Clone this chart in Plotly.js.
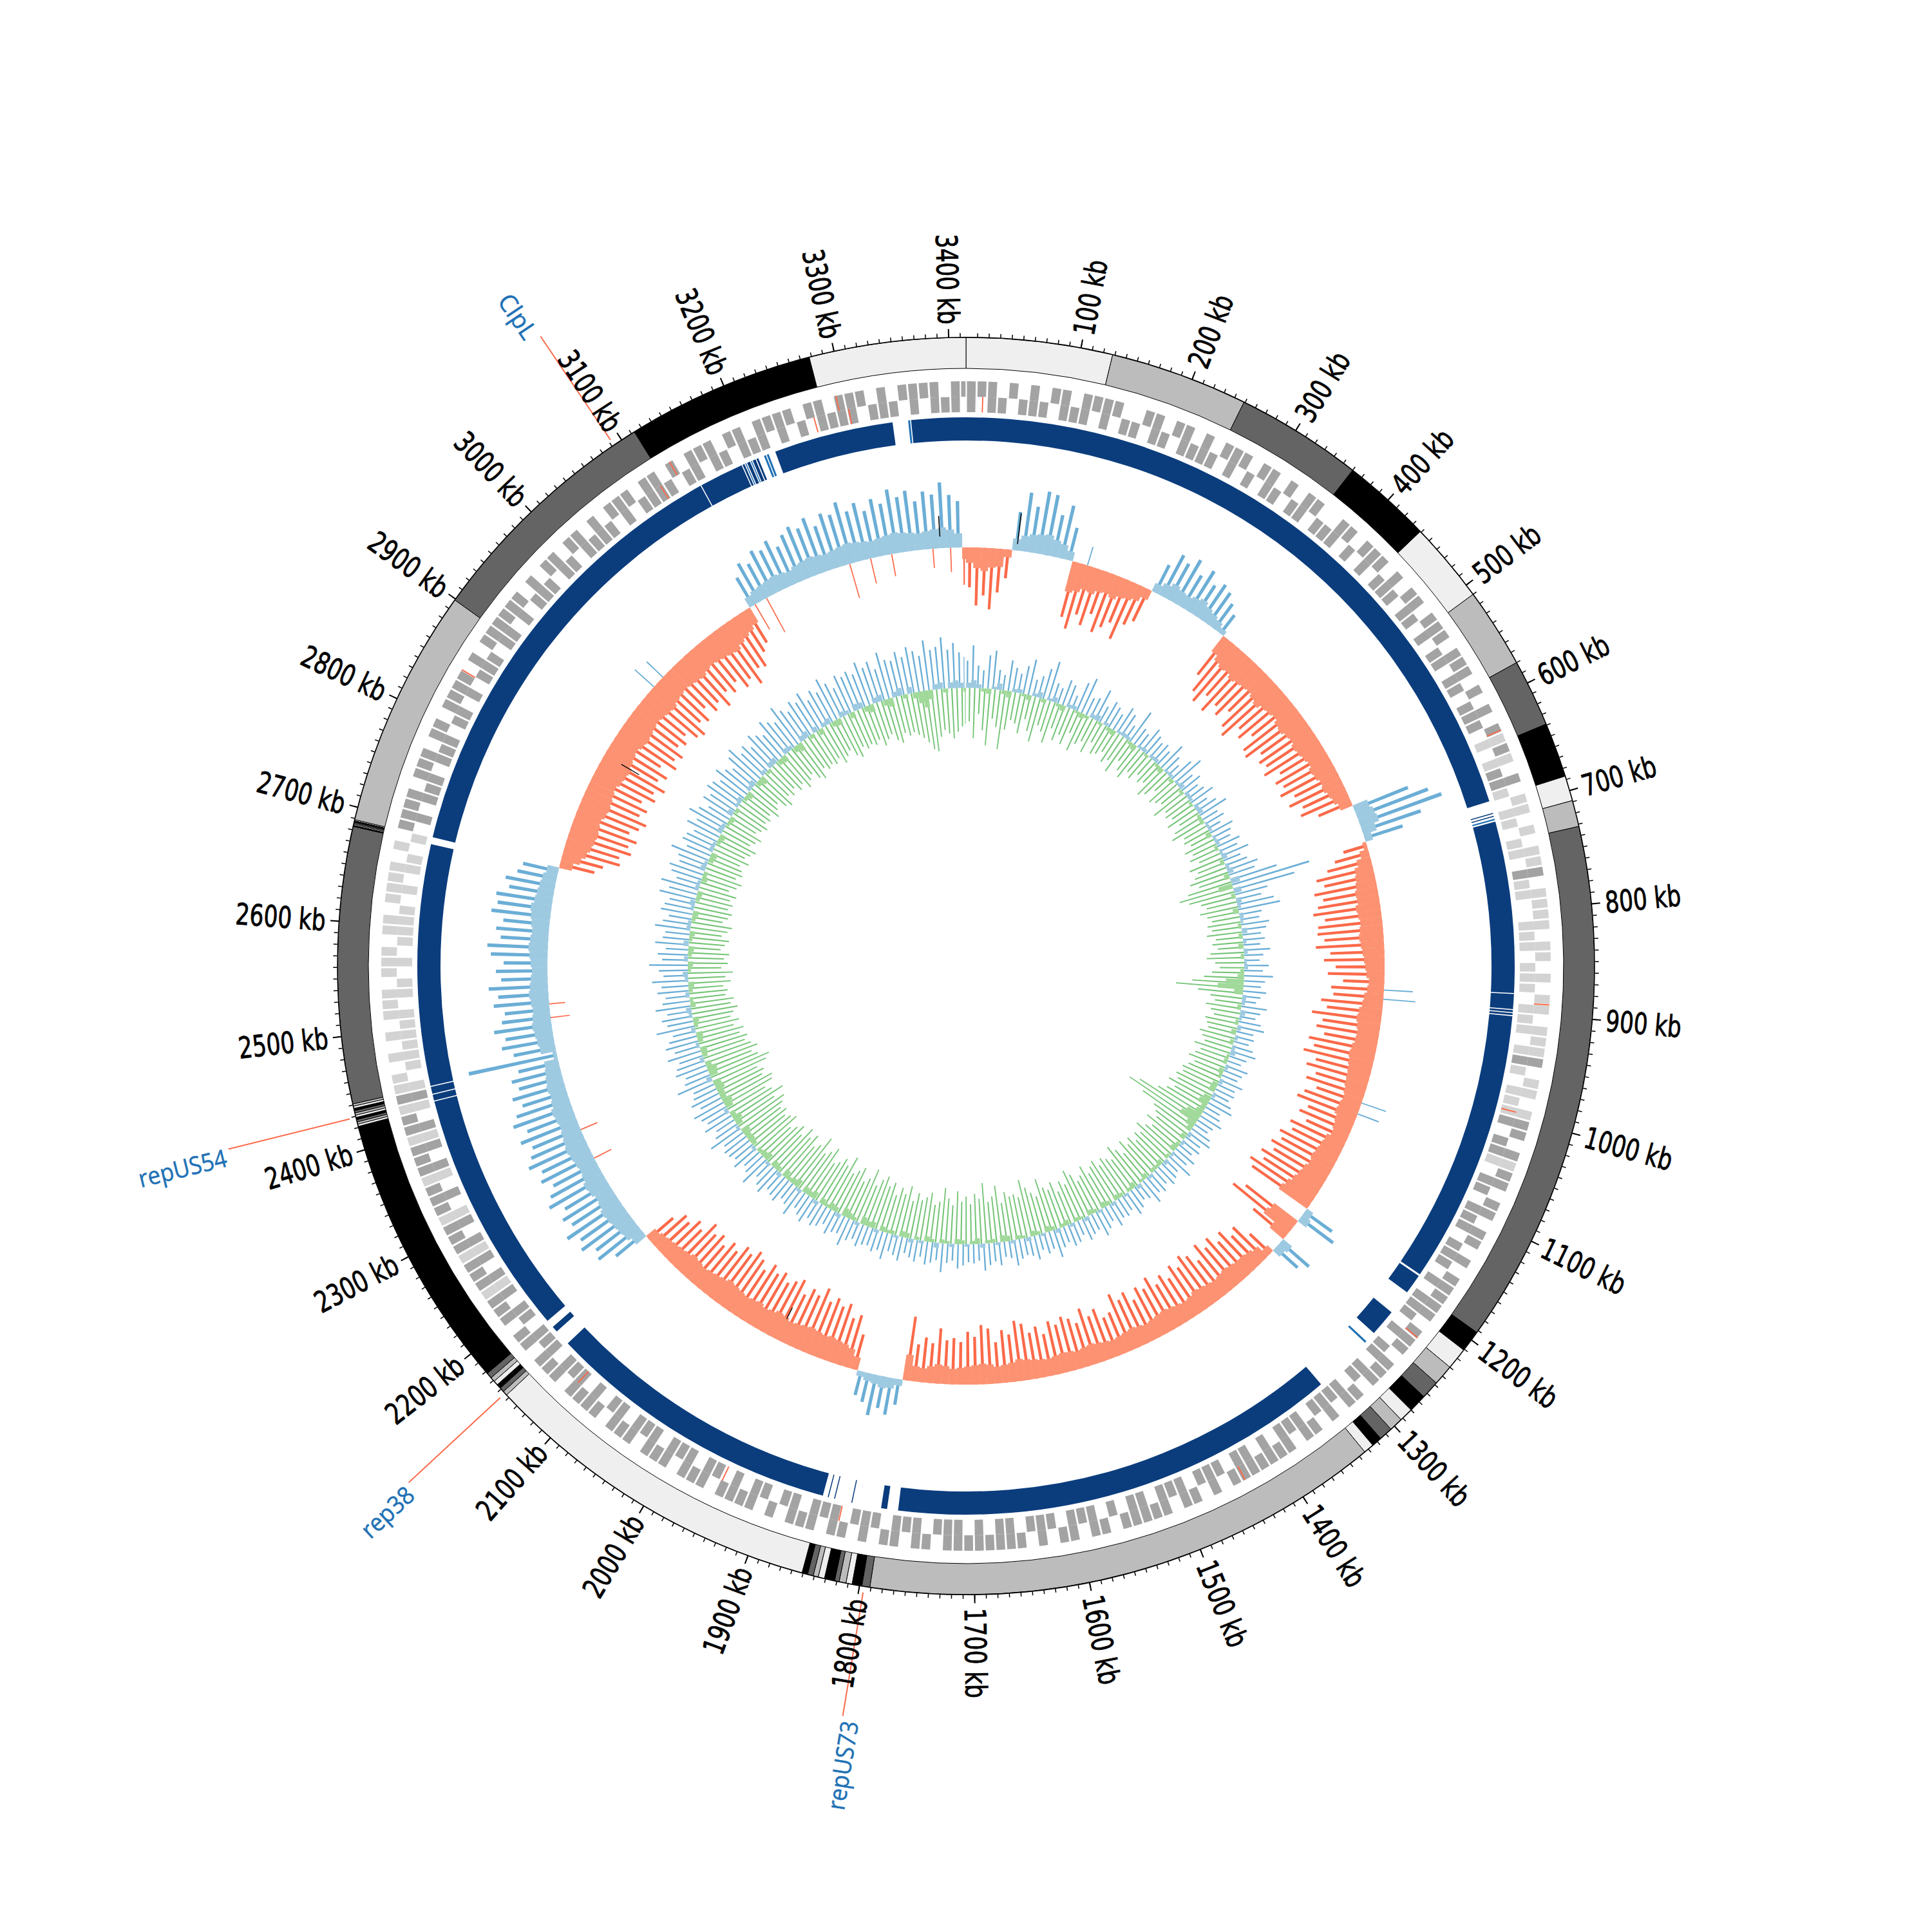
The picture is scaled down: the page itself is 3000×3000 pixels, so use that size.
<!DOCTYPE html>
<html><head><meta charset="utf-8">
<script src="https://cdn.plot.ly/plotly-3.0.1.min.js"></script>
<style>html,body{margin:0;padding:0;background:#fff}#chart{width:3000px;height:3000px}</style>
</head><body><div id="chart"></div>
<script>
// ---------------- DATA ----------------
const GENOME_KB = 3415;
const BIN_KB = 10;

// Contigs (ideogram), kb; shade 0 light,1 mid,2 dark,3 black
const contigStart = [0,128,249,360,439,510,580,639,687,709,732,1192,1211,1230,1248,1264,1280,1292,1304,1316,1325,1334,1791,1798,1806.6,1812,1818,1822,1831,1836.5,1841,1846,1851,2153,2157,2161,2165,2169,2173,2178,2421,2423,2425,2427,2429,2431,2433,2435,2437,2439,2441,2683,2684,2685,2686,2687,2688,2689,2899,3113,3278];
const contigEnd   = [128,249,360,439,510,580,639,687,709,732,1192,1211,1230,1248,1264,1280,1292,1304,1316,1325,1334,1791,1798,1806.6,1812,1818,1822,1831,1836.5,1841,1846,1851,2153,2157,2161,2165,2169,2173,2178,2421,2423,2425,2427,2429,2431,2433,2435,2437,2439,2441,2683,2684,2685,2686,2687,2688,2689,2899,3113,3278,3415];
const contigShade = [0,1,2,3,0,1,2,3,0,1,2,3,0,1,2,3,0,1,2,3,0,1,2,3,0,1,2,3,0,1,2,3,0,1,2,3,0,1,2,3,0,1,2,3,0,1,2,3,0,1,2,3,0,1,2,3,0,1,2,3,0];

// Alignment ring blocks (kb), kind 0 = dark, 1 = light
const alignStart = [0,700,703,706,709,881.5,897.5,900.5,903.5,1180,1225,1263,1325,1786,1821,1838.5,1845,1851,2165,2179,2426.5,2433.5,2441.5,2690,3141.5,3187,3190,3192,3196,3198,3202,3210,3213,3222,3357.5,3360.5];
const alignEnd   = [688,701,704,707.5,880.5,896.5,899.5,902.5,1178,1200,1252,1265,1775,1792,1822,1839.5,1846,2149,2171,2425.5,2432.5,2440.5,2683,3140.5,3186,3189,3191,3195,3197,3201,3204,3212,3215,3342,3359.5,3415];
const alignKind  = [0,0,0,1,0,0,0,0,0,0,0,1,0,0,0,0,0,0,0,0,0,0,0,0,0,0,1,0,1,0,0,1,1,0,1,0];

// Gene track per 10 kb bin: 0 none,1 fwd,2 rev,3 both,4 sparse fwd,5 sparse rev,6 sparse both
const geneCodes = ["3132123213","2313122132","1323213121","3212312231","2131232132",
"1312313212","3216162354","6545643564","4656456546","5646354656",
"3123613213","2312321313","3213123132","1323213231","3133123213",
"2313312132","3123213313","1332132312","3213231321","2313123132",
"3132313213","1323132312","3136313631","3613163136","3163645656",
"5646546456","6546465451","3132313231","2313123213","3131232132",
"1323213123","3212313213","2313121323","3123213132","31"].join('').split('').map(Number);
const redGeneKb  = [16,3293,3302,3126,3107,3268,2850,628,890,1228,1437,1830,1948,2115,995];
const redGeneRow = [2,1,2,1,2,2,1,1,1,1,1,2,2,2,2];

// GC skew (x1000) per 10 kb bin: smoothed fill and window peak
const skewFill = [
 -24,-32,-36,-30,-28,-12, 18, 24, 28, 30,
  32, 26, 22, 14,-48,-44,-38,-40,-34,-32,
 -36,-30,-28,-24,-16, 14, 20, 26, 22, 20,
  24, 28, 22, 18, 14,  8,-30,-38,-42,-40,
 -45,-42,-40,-38,-42,-46,-40,-38,-35,-40,
 -42,-38,-36,-40,-38,-35,-32,-36,-34,-30,
 -32,-28,-25,-20, 24, 28, 30, 22, 12, -6,
 -14,-22,-28,-30,-32,-35,-34,-38,-36,-34,
 -36,-38,-36,-34,-32,-30,-28,-24,-26,-30,
 -32,-36,-38,-36,-34,-35,-38,-40,-38,-36,
 -35,-34,-32,-30,-32,-34,-30,-28,-26,-32,
 -34,-36,-38,-36,-40,-42,-45,-50,-54, 12,
  16,-46,-50,-28, 18, 14,-12,-22,-26,-28,
 -28,-30,-32,-30,-28,-30,-32,-34,-30,-28,
 -30,-32,-34,-32,-30,-28,-30,-32,-30,-28,
 -26,-28,-30,-32,-30,-28,-30,-31,-29,-27,
 -28,-30,-32,-34,-30,-28,-26,-30,-32,-30,
 -28,-26,-24,-28,-30,-26,-22,-24,-40, 10,
  16, 18, 14, 12,  8,-20,-30,-34,-36,-38,
 -36,-38,-40,-38,-36,-34,-38,-40,-36,-34,
 -38,-36,-34,-36,-38,-40,-36,-34,-32,-30,
 -32,-34,-30,-28,-26,-24,-22,-18, 20, 26,
  28, 30, 32, 34, 30, 28, 32, 34, 30, 28,
  30, 32, 34, 32, 30, 28, 30, 32, 28, 26,
  28, 26, 24, 22,  6, 24, 26, 28, 30, 28,
  26, 28, 30, 28, 26, 24, 26, 28, 30, 28,
  26, 28, 30, 32, 28, 26, 24, 22, 18,-20,
 -30,-36,-40,-42,-44,-42,-40,-44,-46,-44,
 -42,-40,-44,-46,-48,-44,-42,-40,-44,-46,
 -44,-42,-40,-42,-44,-46,-42,-40,-38,-40,
 -42,-44,-40,-38,-40,-42,-44,-46,-40,-36,
 -32,-26, 16, 20, 22, 24, 26, 24, 22, 26,
  28, 30, 28, 26, 28, 30, 32, 30, 28, 26,
  28, 30, 32, 30, 28, 26, 28, 30, 32, 28,
  22,-18];
const skewPeak = [
 -62,-90,-74,-95,-68,-45, 60, 92, 72, 98,
  95, 66, 84, 52,-88,-104,-78,-92,-70,-96,
 -84,-72,-95,-66,-55, 48, 72, 64, 78, 58,
  74, 56, 66, 60, 48, 36,-72,-96,-108,-88,
 -110,-90,-100,-82,-105,-115,-88,-98,-80,-104,
 -108,-86,-96,-90,-100,-78,-92,-84,-95,-76,
 -90,-72,-80,-55, 90,118,135, 96, 62,-38,
 -55,-70,-90,-80,-98,-86,-96,-105,-88,-100,
 -102,-92,-106,-84,-94,-76,-88,-64,-82,-78,
 -96,-86,-108,-90,-98,-84,-106,-96,-110,-88,
 -100,-82,-94,-74,-90,-98,-76,-86,-70,-92,
 -84,-100,-92,-104,-94,-110,-100,-118,-108, 52,
  64,-98,-115,-66, 58, 46,-44,-70,-62,-80,
 -70,-86,-76,-90,-68,-84,-92,-78,-88,-72,
 -84,-74,-92,-78,-86,-70,-88,-80,-94,-68,
 -64,-82,-74,-90,-70,-80,-86,-76,-84,-66,
 -80,-72,-88,-94,-74,-82,-64,-86,-92,-74,
 -82,-66,-72,-68,-86,-62,-70,-58,-100, 40,
  58, 50, 64, 46, 38,-56,-84,-76,-96,-88,
 -98,-88,-106,-90,-96,-82,-102,-94,-86,-98,
 -90,-100,-84,-96,-104,-92,-98,-82,-90,-76,
 -88,-80,-92,-70,-78,-64,-68,-50, 56, 80,
  74, 92, 84,100, 82, 90, 78, 98, 88, 76,
  90, 82, 98, 88, 80, 94, 78, 96, 86, 72,
  84, 70, 78, 64,140, 66, 82, 74, 90, 76,
  70, 86, 78, 92, 72, 80, 68, 88, 94, 74,
  82, 72, 92, 84, 88, 70, 78, 62, 56,-55,
 -66,-90,-86,-102,-94,-104,-88,-100,-108,-92,
 -100,-86,-104,-96,-110,-92,-102,-84,-106,-96,
 -104,-88,-96,-86,-102,-108,-90,-98,-80,-96,
 -88,-104,-84,-94,-82,-100,-92,-108,-86,-90,
 -70,-60, 50, 68, 60, 76, 70, 80, 64, 78,
  86, 78, 90, 72, 88, 82, 98, 80, 90, 74,
  90, 80,100, 86, 94, 76, 90, 84,102, 82,
  72,-58];
// opposite-sign spikes inside regions
const skewCrossKb  = [3128,3145,3262,3290,3318,2494,2512,2302,2343,885,897,1035,1050,160,2958,2975,3372,3395];
const skewCrossVal = [-45,-60,-55,-40,-35,-30,-25,-30,-28,45,50,40,35,30,40,35,-30,-38];
// dark marks in skew ring
const skewMarkKb   = [3382,66,2849,1963];
const skewMarkFrom = [18,10,-30,-35];
const skewMarkTo   = [50,58,-62,-55];

// GC content deviation per 10 kb bin: smoothed fill (signed), window max above, window min below
const gcFill = [
 8,12,6,-5,-8,4,10,-6,-10,5,
 6,-4,-8,5,9,-6,4,8,-5,-9,
 5,6,-4,-8,-5,6,9,-4,5,-6,
 -8,4,6,5,-5,-9,4,6,-4,5,
 6,-5,-8,4,5,-6,4,8,-5,6,
 5,-4,6,8,-5,-6,4,5,-8,4,
 6,-5,4,8,-6,5,9,-8,14,-22,
 12,-6,8,5,-9,6,4,-5,8,-6,
 5,-8,6,-5,4,6,-6,-10,-28,-40,
 -14,6,5,-6,8,4,-5,6,-8,5,
 -6,5,8,-4,-6,5,-8,-5,6,-9,
 -10,5,-12,-16,-8,-12,-24,-30,-14,-8,
 6,-8,5,-6,-9,4,-5,6,-8,-5,
 -6,5,-8,-4,6,-9,-5,4,-6,-8,
 5,-6,-9,4,-5,-8,6,-4,-6,5,
 -8,-5,6,-6,-9,4,-5,-8,6,-4,
 -6,5,-8,-10,4,-6,-5,6,-9,-5,
 4,-6,-8,5,-4,-6,8,-5,-8,4,
 -5,6,-8,-9,4,-6,-5,-8,5,-10,
 -8,-12,5,-6,-9,-13,6,-8,-10,-5,
 -9,6,-12,-8,-10,5,-13,-9,-6,-12,
 6,-8,-10,5,-12,-9,-6,5,-8,-10,
 -9,-13,5,-10,-14,-8,6,-12,-15,-9,
 -10,-14,-12,8,-13,-15,-9,6,-8,-10,
 5,-8,-10,6,-6,-9,5,8,-8,-5,
 6,-6,-9,5,8,-5,-8,6,-6,-9,
 8,-5,-8,6,5,-6,-9,5,8,-6,
 -8,6,5,-9,-6,8,5,-8,-10,6,
 5,-6,-9,8,6,-5,-8,9,-6,5,
 8,-6,-10,6,9,-8,-12,6,-5,8,
 9,-8,-10,8,6,-9,-13,8,10,-6,
 8,-9,6,9,-8,-10,8,6,-9,10,
 9,-8,-12,8,10,-9,-13,8,12,-6,
 10,-9,-18,-26,-14,8,10,-6,9,12,
 8,-6];
const gcUp = [
 42,66,35,28,52,60,31,24,48,38,
 30,44,56,26,34,48,62,30,25,41,
 36,22,47,58,29,33,51,27,40,35,
 28,45,38,24,55,30,26,42,35,29,
 33,27,46,31,22,40,52,28,36,25,
 30,41,24,35,48,27,33,22,39,31,
 26,38,30,45,28,36,50,42,75,125,
 98,52,40,58,66,35,30,44,38,29,
 34,26,41,30,24,38,29,45,33,27,
 36,28,22,40,31,25,35,42,27,30,
 24,33,40,28,22,36,30,26,38,29,
 32,27,35,41,25,30,38,28,24,34,
 40,28,33,25,37,29,44,26,31,36,
 27,35,30,42,28,24,33,39,26,31,
 29,38,25,33,41,27,30,36,24,32,
 35,26,31,44,28,33,25,38,30,27,
 31,40,27,24,36,29,34,42,26,30,
 28,33,38,26,30,45,27,32,36,25,
 34,29,24,38,31,27,42,30,35,28,
 30,36,27,33,45,29,31,38,26,34,
 38,30,42,35,28,46,33,29,40,36,
 32,45,38,29,50,36,31,44,35,40,
 42,36,55,40,33,48,38,44,52,36,
 47,39,35,58,42,37,50,45,38,54,
 40,52,44,36,60,41,48,38,55,43,
 37,49,42,56,38,45,60,40,47,35,
 52,41,38,55,44,36,50,46,40,58,
 45,60,38,49,55,42,47,62,40,51,
 48,40,56,44,62,50,38,53,46,58,
 54,46,61,50,42,58,66,48,55,44,
 60,52,45,64,56,49,70,58,50,62,
 55,66,48,60,52,70,58,46,63,57,
 62,54,70,58,65,50,74,60,56,68,
 58,72,64,55,78,62,66,80,60,70,
 55,48];
const gcDown = [
 52,78,40,65,88,46,58,92,60,44,
 48,62,38,55,70,42,50,66,40,57,
 45,58,36,62,48,40,55,34,50,46,
 38,52,44,60,35,48,56,40,46,33,
 42,36,55,47,32,50,44,38,58,41,
 46,39,52,35,48,57,40,44,36,50,
 40,48,36,55,44,52,62,50,70,86,
 72,55,48,60,50,44,52,46,55,42,
 48,40,52,58,45,38,50,62,80,105,
 70,50,42,55,46,40,52,48,44,56,
 50,44,58,46,52,60,48,55,62,58,
 66,60,72,58,68,80,110,125,96,70,
 62,55,68,52,60,72,58,64,54,66,
 58,70,52,64,75,56,62,68,60,72,
 66,58,74,62,56,70,80,60,68,54,
 72,62,68,84,58,66,76,90,64,70,
 68,76,60,88,72,64,94,70,78,62,
 74,66,82,60,70,86,64,58,76,68,
 62,72,58,80,66,74,60,78,70,84,
 76,64,88,70,62,82,74,66,90,72,
 80,70,64,86,76,68,92,74,66,82,
 72,84,66,78,70,62,80,74,68,76,
 70,78,86,72,92,76,68,84,88,74,
 80,72,90,98,82,74,86,78,70,76,
 66,74,60,70,58,64,72,62,68,56,
 60,54,66,58,70,52,62,56,64,50,
 56,62,50,58,64,48,55,60,52,58,
 52,60,46,56,62,50,58,54,48,60,
 50,56,62,48,54,60,46,52,58,50,
 54,48,60,52,46,58,64,50,56,48,
 58,52,64,56,50,62,68,54,60,56,
 60,54,66,58,52,64,70,56,62,58,
 62,56,68,60,54,66,72,58,64,60,
 66,72,80,92,96,74,64,70,78,68,
 60,56];

// Labelled features
const featureName = ['ClpL','repUS54','rep38','repUS73'];
const featureKb   = [3092, 2429, 2155, 1796];

// ---------------- GEOMETRY / STYLE ----------------
const PX = 3000, R_OUT = 976, IDEO_IN = 928;
const GENE_OUT = [884, 908], GENE_IN = [860, 884];
const ALIGN_R = [816, 852];
const SKEW_BASE = 650, GC_BASE = 432;
const shadeColor = ['#efefef', '#bcbcbc', '#646464', '#000000'];
const TICK_FONT = 'DejaVu Sans, sans-serif';
const LABEL_FONT = 'Open Sans, Noto Sans, sans-serif';

const deg = kb => kb / GENOME_KB * 360;
const nBins = Math.ceil(GENOME_KB / BIN_KB);
const binStart = i => i * BIN_KB;
const binLen = i => Math.min(BIN_KB, GENOME_KB - i * BIN_KB);
const binMid = i => binStart(i) + binLen(i) / 2;

function bp(theta, width, base, r, color, lineColor, lineWidth) {
  return {type: 'barpolar', subplot: 'polar', theta, width, base, r,
    marker: {color, line: {color: lineColor || 'rgba(0,0,0,0)', width: lineWidth || 0}},
    hoverinfo: 'skip', showlegend: false};
}
const traces = [];

// Ideogram
traces.push(bp(contigStart.map((s, i) => deg((s + contigEnd[i]) / 2)),
  contigStart.map((s, i) => deg(contigEnd[i] - s)),
  contigStart.map(() => IDEO_IN), contigStart.map(() => R_OUT - IDEO_IN),
  contigShade.map(s => shadeColor[s]), '#000', 1));

// Gene track
{
  const th = [], w = [], b = [], r = [], c = [];
  geneCodes.forEach((code, i) => {
    if (i >= nBins) return;
    const sparse = code >= 4;
    const col = sparse ? '#d3d3d3' : '#a3a3a3';
    const outer = code === 1 || code === 3 || code === 4 || code === 6;
    const inner = code === 2 || code === 3 || code === 5 || code === 6;
    if (outer) { th.push(deg(binMid(i))); w.push(deg(binLen(i)) * 0.82); b.push(GENE_OUT[0]); r.push(GENE_OUT[1] - GENE_OUT[0]); c.push(col); }
    if (inner) { th.push(deg(binMid(i))); w.push(deg(binLen(i)) * 0.82); b.push(GENE_IN[0]); r.push(GENE_IN[1] - GENE_IN[0]); c.push(col); }
  });
  redGeneKb.forEach((k, j) => {
    const rr = redGeneRow[j] === 1 ? GENE_OUT : GENE_IN;
    th.push(deg(k)); w.push(deg(1.2)); b.push(rr[0]); r.push(rr[1] - rr[0]); c.push('#fb6a4a');
  });
  traces.push(bp(th, w, b, r, c));
}

// Alignment ring
traces.push(bp(alignStart.map((s, i) => deg((s + alignEnd[i]) / 2)),
  alignStart.map((s, i) => deg(alignEnd[i] - s)),
  alignStart.map(() => ALIGN_R[0]), alignStart.map(() => ALIGN_R[1] - ALIGN_R[0]),
  alignKind.map(k => k ? '#2171b5' : '#0b3d7d')));

function signedBars(kbs, vals, baseR, widthDeg, posCol, negCol) {
  const th = [], w = [], b = [], r = [], c = [];
  vals.forEach((v, i) => {
    th.push(deg(kbs[i])); w.push(widthDeg[i]);
    if (v >= 0) { b.push(baseR); r.push(v); c.push(posCol); }
    else { b.push(baseR + v); r.push(-v); c.push(negCol); }
  });
  return bp(th, w, b, r, c);
}
const bins = [...Array(nBins).keys()];
const binDeg = bins.map(i => deg(binLen(i)));

// GC skew
traces.push(signedBars(bins.map(binMid), skewPeak.slice(0, nBins), SKEW_BASE, binDeg.map(d => d * 0.4), '#6baed6', '#fb6a4a'));
traces.push(signedBars(skewCrossKb, skewCrossVal, SKEW_BASE, skewCrossKb.map(() => deg(1.5)), '#6baed6', '#fb6a4a'));
traces.push(signedBars(bins.map(binMid), skewFill.slice(0, nBins), SKEW_BASE, binDeg.map(d => d * 1.03), '#9ecae1', '#fc9272'));
traces.push(bp(skewMarkKb.map(deg), skewMarkKb.map(() => deg(1.2)),
  skewMarkKb.map((k, i) => SKEW_BASE + Math.min(skewMarkFrom[i], skewMarkTo[i])),
  skewMarkKb.map((k, i) => Math.abs(skewMarkTo[i] - skewMarkFrom[i])), '#000'));

// GC content
traces.push(bp(bins.map(i => deg(binMid(i) - binLen(i) * 0.22)), binDeg.map(d => d * 0.28),
  bins.map(() => GC_BASE), gcUp.slice(0, nBins), '#6baed6'));
traces.push(bp(bins.map(i => deg(binMid(i) + binLen(i) * 0.22)), binDeg.map(d => d * 0.28),
  gcDown.slice(0, nBins).map(v => GC_BASE - v), gcDown.slice(0, nBins), '#74c476'));
traces.push(signedBars(bins.map(binMid), gcFill.slice(0, nBins), GC_BASE, binDeg.map(d => d * 1.03), '#9ecae1', '#a1d99b'));

// placeholder trace so the tick-overlay subplot is drawn
traces.push({type: 'scatterpolar', subplot: 'polar2', r: [0], theta: [0], mode: 'markers',
  marker: {size: 1, color: 'rgba(0,0,0,0)'}, hoverinfo: 'skip', showlegend: false});

// ---------------- TICKS & LABELS ----------------
const majorTickKb = []; for (let k = 100; k < GENOME_KB; k += 100) majorTickKb.push(k);
const minorTickKb = []; for (let k = 10; k < GENOME_KB; k += 10) minorTickKb.push(k);

function paperXY(kb, r) {
  const t = deg(kb) * Math.PI / 180;
  return [0.5 + r * Math.sin(t) / PX, 0.5 + r * Math.cos(t) / PX];
}
function radialTextAngle(kb) { const a = deg(kb); return a < 180 ? a - 90 : a - 270; }

const annotations = [], targetLen = {}, strokeW = {};
const TICK_SIZE = 46;
majorTickKb.forEach(k => {
  const txt = k + ' kb';
  const len = String(k).length * 22 + 52;
  targetLen[txt] = len; strokeW[txt] = 0.9;
  const [x, y] = paperXY(k, 997 + len / 2);
  annotations.push({xref: 'paper', yref: 'paper', x, y, text: txt, showarrow: false,
    textangle: radialTextAngle(k), xanchor: 'center', yanchor: 'middle',
    font: {family: TICK_FONT, size: TICK_SIZE, color: '#000'}});
});
const shapes = [];
const LABEL_SIZE = 38, LABEL_OFFSET_KB = -4.5;
const labelLen = {ClpL: 76, repUS54: 140, rep38: 97, repUS73: 139};
featureName.forEach((name, i) => {
  const k = featureKb[i];
  const [x0, y0] = paperXY(k, 986), [x1, y1] = paperXY(k, 1180);
  shapes.push({type: 'line', xref: 'paper', yref: 'paper', x0, y0, x1, y1, line: {color: '#fb6a4a', width: 2}});
  const len = labelLen[name];
  targetLen[name] = len; strokeW[name] = 0.5;
  const [x, y] = paperXY(k + LABEL_OFFSET_KB, 1187 + len / 2);
  annotations.push({xref: 'paper', yref: 'paper', x, y, text: name, showarrow: false,
    textangle: radialTextAngle(k), xanchor: 'center', yanchor: 'middle',
    font: {family: LABEL_FONT, size: LABEL_SIZE, color: '#2171b5'}});
});

const dom = [0.5 - R_OUT / PX, 0.5 + R_OUT / PX];
const baseAng = {rotation: 90, direction: 'clockwise', showgrid: false, showticklabels: false, ticks: 'outside', tickcolor: '#000'};
const layout = {
  width: PX, height: PX, margin: {l: 0, r: 0, t: 0, b: 0},
  paper_bgcolor: '#fff', showlegend: false,
  polar: {domain: {x: dom, y: dom}, bgcolor: 'rgba(0,0,0,0)',
    radialaxis: {visible: false, range: [0, R_OUT]},
    angularaxis: Object.assign({}, baseAng, {tickvals: minorTickKb.map(deg), ticklen: 6, tickwidth: 1.5,
      showline: true, linecolor: '#000', linewidth: 1.5})},
  polar2: {domain: {x: dom, y: dom}, bgcolor: 'rgba(0,0,0,0)',
    radialaxis: {visible: false, range: [0, R_OUT]},
    angularaxis: Object.assign({}, baseAng, {tickvals: majorTickKb.map(deg), ticklen: 13, tickwidth: 2, showline: false})},
  annotations, shapes
};
Plotly.newPlot('chart', traces, layout, {displayModeBar: false, staticPlot: true}).then(gd => {
  // condense label glyphs to the narrow face used in the original and give them its weight
  gd.querySelectorAll('text.annotation-text').forEach(el => {
    const t = el.textContent.trim();
    if (targetLen[t]) {
      el.setAttribute('textLength', targetLen[t]);
      el.setAttribute('lengthAdjust', 'spacingAndGlyphs');
      el.style.stroke = window.getComputedStyle(el).fill;
      el.style.strokeWidth = strokeW[t] + 'px';
    }
  });
});
</script>
</body></html>
